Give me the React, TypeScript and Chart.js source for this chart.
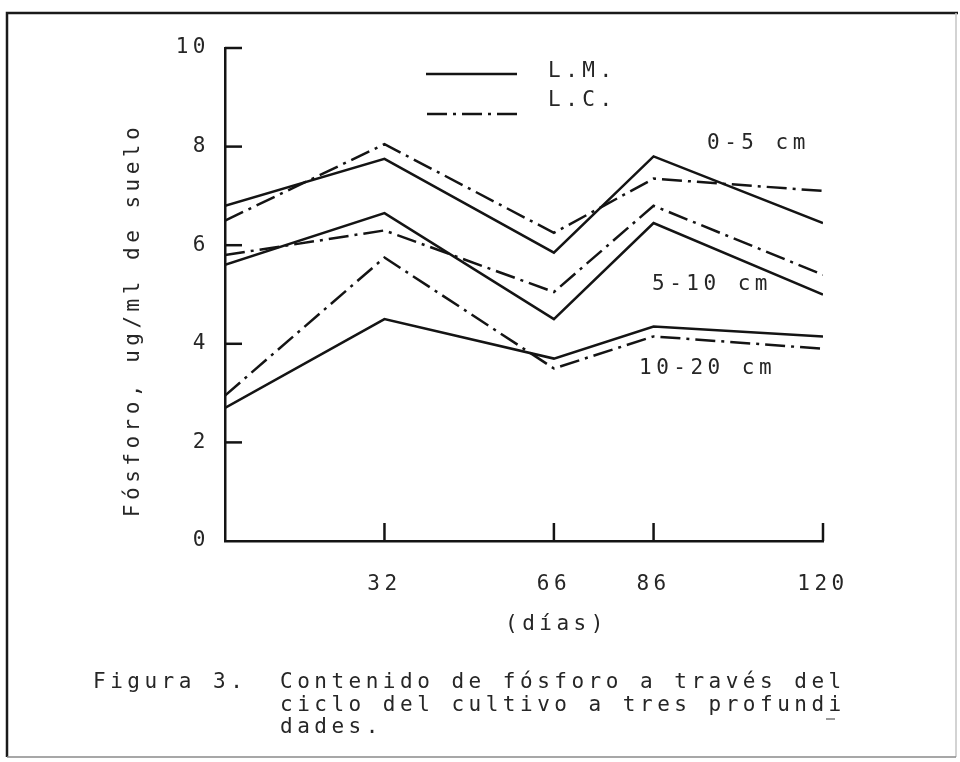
import React, { useEffect, useRef } from "react";
import { Chart, registerables } from "chart.js";

Chart.register(...registerables);

// ---- data ----
const days = [0, 32, 66, 86, 120];
const xTickDays = [32, 66, 86, 120];
const yTickValues = [0, 2, 4, 6, 8, 10];

const lm0to5 = [6.8, 7.75, 5.85, 7.8, 6.45];
const lc0to5 = [6.5, 8.05, 6.25, 7.35, 7.1];
const lm5to10 = [5.6, 6.65, 4.5, 6.45, 5.0];
const lc5to10 = [5.8, 6.3, 5.05, 6.8, 5.4];
const lm10to20 = [2.7, 4.5, 3.7, 4.35, 4.15];
const lc10to20 = [2.95, 5.75, 3.5, 4.15, 3.9];

const depthLabels = ["0-5 cm", "5-10 cm", "10-20 cm"];
const legendLabels = ["L.M.", "L.C."];
const xTitle = "(días)";
const yTitle = "Fósforo, ug/ml de suelo";
const captionLabel = "Figura 3.";
const captionLines = [
  "Contenido de fósforo a través del",
  "ciclo del cultivo a tres profundi",
  "dades.",
];

const FONT = '"DejaVu Sans Mono", monospace';
const FONT_SIZE = 21;
const INK = "#141414";
const TEXT = "#262626";
const DASH_DOT = [20, 6, 3, 6];
const SPACING = "4.5px";

const toPoints = (vals: number[]) => days.map((d, i) => ({ x: d, y: vals[i] }));

const decorPlugin = {
  id: "decor",
  beforeUpdate(chart: any) {
    chart.ctx.letterSpacing = SPACING;
  },
  beforeDraw(chart: any) {
    const ctx = chart.ctx;
    ctx.letterSpacing = SPACING;
    ctx.save();
    ctx.fillStyle = "#ffffff";
    ctx.fillRect(0, 0, chart.width, chart.height);
    // frame
    ctx.strokeStyle = "#1a1a1a";
    ctx.lineWidth = 2.5;
    ctx.beginPath();
    ctx.moveTo(7, 757);
    ctx.lineTo(7, 13);
    ctx.lineTo(958, 13);
    ctx.stroke();
    ctx.strokeStyle = "#c4c4c4";
    ctx.lineWidth = 1.5;
    ctx.beginPath();
    ctx.moveTo(956, 13);
    ctx.lineTo(956, 757);
    ctx.stroke();
    ctx.strokeStyle = "#8a8a8a";
    ctx.beginPath();
    ctx.moveTo(7, 757);
    ctx.lineTo(956, 757);
    ctx.stroke();
    ctx.restore();
  },
  afterDraw(chart: any) {
    const ctx = chart.ctx;
    const xs = chart.scales.x;
    const ys = chart.scales.y;
    ctx.save();
    // inward tick marks
    ctx.strokeStyle = INK;
    ctx.lineWidth = 2.5;
    ctx.lineCap = "butt";
    yTickValues.forEach((v) => {
      if (v === 0) return;
      const y = ys.getPixelForValue(v);
      ctx.beginPath();
      ctx.moveTo(xs.left, y);
      ctx.lineTo(xs.left + 17, y);
      ctx.stroke();
    });
    xTickDays.forEach((v) => {
      const x = xs.getPixelForValue(v);
      ctx.beginPath();
      ctx.moveTo(x, ys.bottom);
      ctx.lineTo(x, ys.bottom - 18);
      ctx.stroke();
    });

    // legend samples
    ctx.beginPath();
    ctx.moveTo(426, 74);
    ctx.lineTo(517, 74);
    ctx.stroke();
    ctx.setLineDash(DASH_DOT);
    ctx.beginPath();
    ctx.moveTo(427, 114);
    ctx.lineTo(517, 114);
    ctx.stroke();
    ctx.setLineDash([]);

    // texts
    ctx.fillStyle = TEXT;
    ctx.font = `${FONT_SIZE}px ${FONT}`;
    ctx.letterSpacing = SPACING;
    ctx.textBaseline = "middle";
    ctx.textAlign = "left";
    ctx.fillText(legendLabels[0], 548, 72);
    ctx.fillText(legendLabels[1], 548, 101);

    ctx.fillText(depthLabels[0], 707, 144);
    ctx.fillText(depthLabels[1], 652, 285);
    ctx.fillText(depthLabels[2], 639, 369);

    ctx.fillText(xTitle, 505, 625);

    ctx.fillText(captionLabel, 93, 683);
    captionLines.forEach((line, i) => {
      ctx.fillText(line, 280, 683 + i * 22.5);
    });
    // hyphenation underline under final "i"
    ctx.strokeStyle = "#777";
    ctx.lineWidth = 1.5;
    ctx.beginPath();
    ctx.moveTo(826, 719);
    ctx.lineTo(835, 719);
    ctx.stroke();

    // y title
    ctx.save();
    ctx.translate(134, 320);
    ctx.rotate(-Math.PI / 2);
    ctx.textAlign = "center";
    ctx.fillText(yTitle, 0, 0);
    ctx.restore();

    ctx.restore();
  },
};

export default function App() {
  const canvasRef = useRef<HTMLCanvasElement | null>(null);

  useEffect(() => {
    if (!canvasRef.current) return;
    const solid = {
      borderColor: INK,
      borderWidth: 2.5,
      pointRadius: 0,
      tension: 0,
      fill: false,
      borderCapStyle: "butt" as const,
      borderJoinStyle: "miter" as const,
    };
    const dashed = { ...solid, borderDash: DASH_DOT };
    const chart = new Chart(canvasRef.current, {
      type: "line",
      data: {
        datasets: [
          { label: `${legendLabels[0]} ${depthLabels[0]}`, data: toPoints(lm0to5), ...solid },
          { label: `${legendLabels[1]} ${depthLabels[0]}`, data: toPoints(lc0to5), ...dashed },
          { label: `${legendLabels[0]} ${depthLabels[1]}`, data: toPoints(lm5to10), ...solid },
          { label: `${legendLabels[1]} ${depthLabels[1]}`, data: toPoints(lc5to10), ...dashed },
          { label: `${legendLabels[0]} ${depthLabels[2]}`, data: toPoints(lm10to20), ...solid },
          { label: `${legendLabels[1]} ${depthLabels[2]}`, data: toPoints(lc10to20), ...dashed },
        ],
      },
      options: {
        animation: false,
        responsive: false,
        maintainAspectRatio: false,
        devicePixelRatio: 1,
        layout: { padding: { left: 125, right: 137, top: 48, bottom: 121 } },
        plugins: {
          legend: { display: false },
          tooltip: { enabled: false },
          title: { display: false },
        },
        scales: {
          x: {
            type: "linear",
            min: 0,
            max: 120,
            grid: { display: false, drawTicks: false },
            border: { display: true, color: INK, width: 2.5 },
            afterBuildTicks: (scale: any) => {
              scale.ticks = xTickDays.map((v) => ({ value: v }));
            },
            afterFit: (scale: any) => {
              scale.height = 100;
            },
            ticks: {
              autoSkip: false,
              maxRotation: 0,
              padding: 31,
              color: TEXT,
              font: { family: FONT, size: FONT_SIZE },
              callback: (v: any) => String(v),
            },
          },
          y: {
            type: "linear",
            min: 0,
            max: 10,
            grid: { display: false, drawTicks: false },
            border: { display: true, color: INK, width: 2.5 },
            afterBuildTicks: (scale: any) => {
              scale.ticks = yTickValues.map((v) => ({ value: v }));
            },
            afterFit: (scale: any) => {
              scale.width = 100;
            },
            ticks: {
              padding: 15,
              color: TEXT,
              font: { family: FONT, size: FONT_SIZE },
              callback: (v: any) => String(v),
            },
          },
        },
      },
      plugins: [decorPlugin],
    });
    return () => chart.destroy();
  }, []);

  return (
    <div
      style={{
        position: "absolute",
        left: 0,
        top: 0,
        width: 960,
        height: 762,
        background: "#fff",
      }}
    >
      <canvas ref={canvasRef} width={960} height={762} style={{ display: "block" }} />
    </div>
  );
}
